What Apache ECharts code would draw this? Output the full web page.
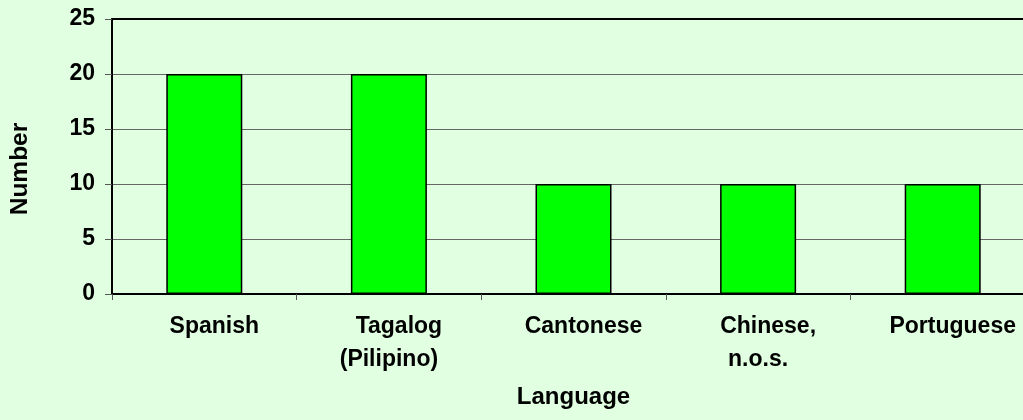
<!DOCTYPE html>
<html><head><meta charset="utf-8">
<script src="https://cdn.jsdelivr.net/npm/echarts@6/dist/echarts.min.js"></script>
<style>html,body{margin:0;padding:0;background:#e1ffe1;}#c{width:1023px;height:420px;}</style>
</head><body><div id="c"></div>
<script>
const categories = ['Spanish', 'Tagalog\n(Pilipino)', 'Cantonese', 'Chinese,\nn.o.s.', 'Portuguese'];
const values = [20, 20, 10, 10, 10];
const yTicks = { min: 0, max: 25, interval: 5 };

const chart = echarts.init(document.getElementById('c'));
const font = 'Liberation Sans, Arial, sans-serif';
chart.setOption({
  backgroundColor: '#e1ffe1',
  animation: false,
  grid: { left: 112, top: 19, bottom: 126, width: 923, containLabel: false, outerBoundsMode: 'none' },
  xAxis: [{
    type: 'category',
    data: categories,
    name: 'Language',
    nameLocation: 'middle',
    nameGap: 91,
    nameTextStyle: { fontFamily: font, fontWeight: 'bold', fontSize: 24, color: '#000' },
    axisLine: { lineStyle: { color: '#000', width: 2 } },
    axisTick: { show: true, interval: 0, length: 6, lineStyle: { color: '#555' } },
    axisLabel: {
      interval: 0, margin: 16, color: '#000',
      fontFamily: font, fontWeight: 'bold', fontSize: 23, lineHeight: 33,
      formatter: function (v) {
        const parts = v.split('\n');
        return parts.map((p, i) => (i === 0 ? '{a|' + p + '}' : '{b|' + p + '}')).join('\n');
      },
      rich: {
        a: { fontFamily: font, fontWeight: 'bold', fontSize: 23, lineHeight: 33, color: '#000', padding: [0, 0, 0, 20] },
        b: { fontFamily: font, fontWeight: 'bold', fontSize: 23, lineHeight: 33, color: '#000' }
      }
    }
  }, {
    type: 'category',
    data: categories,
    position: 'top',
    axisLine: { show: true, lineStyle: { color: '#000', width: 2 } },
    axisTick: { show: false },
    axisLabel: { show: false }
  }],
  yAxis: {
    type: 'value',
    min: yTicks.min, max: yTicks.max, interval: yTicks.interval,
    name: 'Number',
    nameLocation: 'middle',
    nameRotate: 90,
    nameGap: 79,
    nameTextStyle: { fontFamily: font, fontWeight: 'bold', fontSize: 24.5, color: '#000', padding: [0, 25, 0, 0] },
    axisLine: { show: true, lineStyle: { color: '#000', width: 2 } },
    axisTick: { show: true, length: 7, lineStyle: { color: '#555' } },
    axisLabel: { margin: 17, color: '#000', fontFamily: font, fontWeight: 'bold', fontSize: 23 },
    splitLine: { show: true, lineStyle: { color: '#666', width: 1 } }
  },
  series: [{
    type: 'bar',
    data: values,
    barWidth: 76,
    itemStyle: { color: '#00ff00', borderColor: '#000', borderWidth: 1.5 }
  }]
});
</script></body></html>
